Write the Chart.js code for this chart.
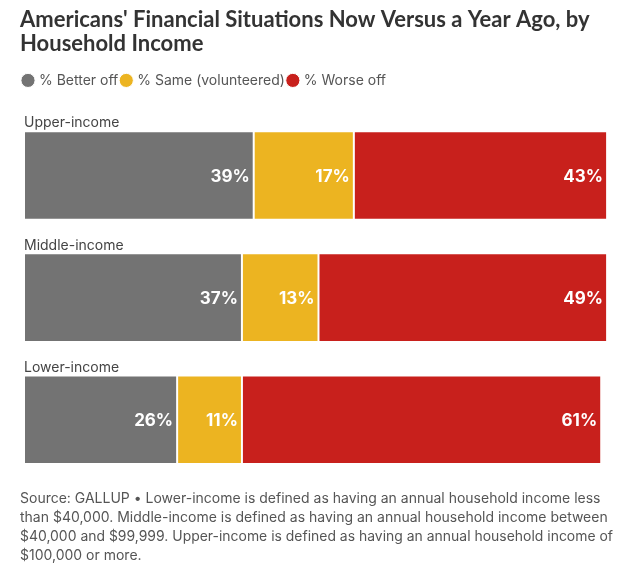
<!DOCTYPE html>
<html>
<head>
<meta charset="utf-8">
<script src="https://cdn.jsdelivr.net/npm/chart.js@4.4.1/dist/chart.umd.min.js"></script>
<style>
    html, body { margin: 0; padding: 0; background: #fff; }
    #wrap { width: 635px; height: 567px; }
</style>
</head>
<body>
<div id="wrap"><canvas id="chart"></canvas></div>
<script>
const categories = ["Upper-income", "Middle-income", "Lower-income"];
const betterOff = [39, 37, 26];
const sameVol = [17, 13, 11];
const worseOff = [43, 49, 61];
const seriesNames = ["% Better off", "% Same (volunteered)", "% Worse off"];
const titleLines = ["Americans' Financial Situations Now Versus a Year Ago, by", "Household Income"];
const sourceLines = [
    "Source: GALLUP \u2022 Lower-income is defined as having an annual household income less",
    "than $40,000. Middle-income is defined as having an annual household income between",
    "$40,000 and $99,999. Upper-income is defined as having an annual household income of",
    "$100,000 or more."
];

const FONT = "Inter, 'Noto Sans', sans-serif";

// labels above each bar + values inside the bar ends
const barLabelsPlugin = {
    id: 'barLabels',
    afterDatasetsDraw(chart) {
        const ctx = chart.ctx;
        const left = chart.chartArea.left;
        ctx.save();
        const first = chart.getDatasetMeta(0);
        ctx.font = "14px " + FONT;
        ctx.fillStyle = "#444";
        ctx.textAlign = "left";
        ctx.textBaseline = "bottom";
        first.data.forEach((bar, i) => {
            ctx.fillText(categories[i], left, bar.y - bar.height / 2 - 1);
        });
        ctx.font = "bold 17px " + FONT;
        ctx.fillStyle = "#fff";
        ctx.textAlign = "right";
        ctx.textBaseline = "middle";
        chart.data.datasets.forEach((ds, di) => {
            chart.getDatasetMeta(di).data.forEach((bar, i) => {
                ctx.fillText(ds.data[i] + "%", bar.x - 4, bar.y + 1);
            });
        });
        ctx.restore();
    }
};

new Chart(document.getElementById("chart"), {
    type: "bar",
    data: {
        labels: categories,
        datasets: [
            { label: seriesNames[0], data: betterOff, backgroundColor: "#737373" },
            { label: seriesNames[1], data: sameVol, backgroundColor: "#ECB421" },
            { label: seriesNames[2], data: worseOff, backgroundColor: "#C8201C" }
        ]
    },
    plugins: [barLabelsPlugin],
    options: {
        indexAxis: "y",
        responsive: true,
        maintainAspectRatio: false,
        animation: false,
        layout: { padding: { top: 8, left: 20, right: 22, bottom: 2 } },
        datasets: {
            bar: {
                categoryPercentage: 1,
                barPercentage: 0.725,
                borderColor: "#fff",
                borderWidth: 1,
                borderSkipped: false
            }
        },
        scales: {
            x: {
                stacked: true,
                min: 0,
                max: 100,
                position: "top",
                ticks: { display: false },
                grid: { display: false },
                border: { display: false },
                afterFit(scale) { scale.height = 17; }
            },
            y: {
                stacked: true,
                ticks: { display: false },
                grid: { display: false },
                border: { display: false },
                afterFit(scale) { scale.width = 4; }
            }
        },
        plugins: {
            title: {
                display: true,
                text: titleLines,
                align: "start",
                color: "#333",
                font: { family: "Lato, sans-serif", size: 22, weight: "bold", lineHeight: 1.1 },
                padding: { top: 0, bottom: 13 }
            },
            legend: {
                display: true,
                position: "top",
                align: "start",
                labels: {
                    usePointStyle: true,
                    pointStyle: "circle",
                    boxWidth: 8,
                    boxHeight: 10,
                    padding: 4,
                    color: "#555",
                    font: { family: FONT, size: 14 }
                }
            },
            subtitle: {
                display: true,
                position: "bottom",
                align: "start",
                text: sourceLines,
                color: "#555",
                font: { family: FONT, size: 14, lineHeight: 1.36 },
                padding: { top: 8, bottom: 0 }
            },
            tooltip: { enabled: false }
        }
    }
});
</script>
</body>
</html>
